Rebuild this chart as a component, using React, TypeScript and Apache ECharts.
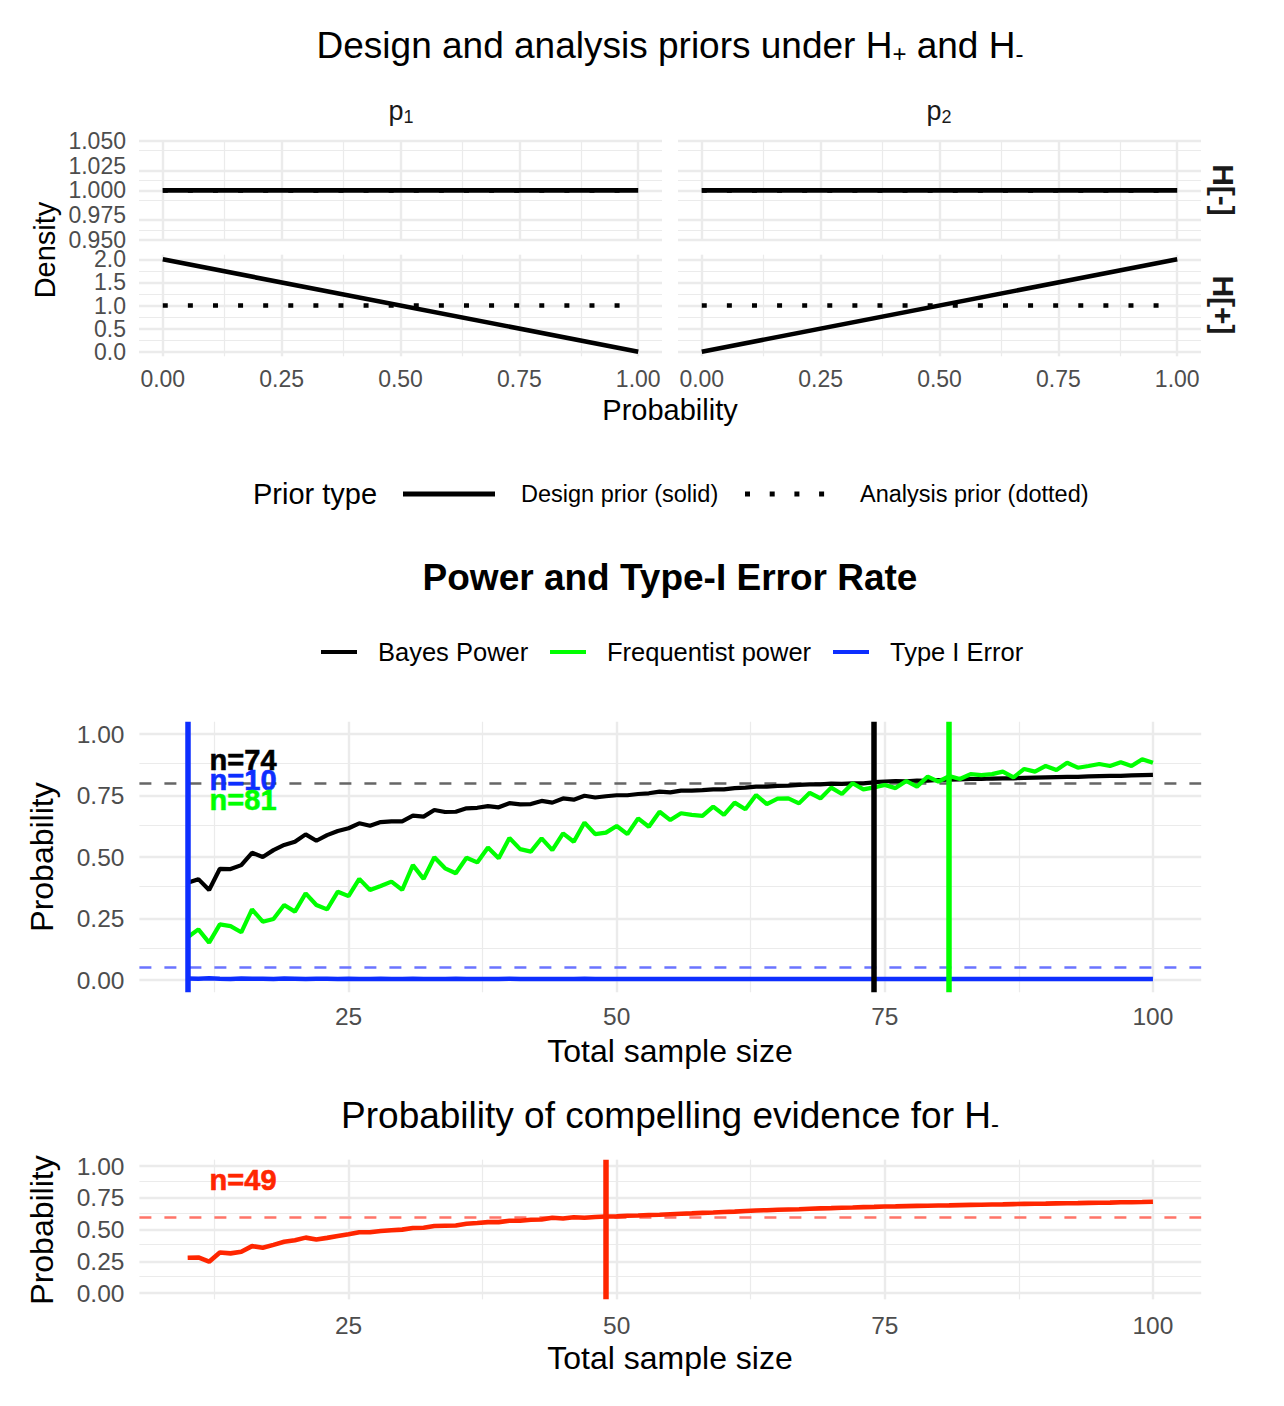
import React, { useEffect, useRef } from "react";
import * as echarts from "echarts";

const FONT = '"Liberation Sans", Arial, Helvetica, sans-serif';
const GRID_COLOR = "#EBEBEB";
const TICK_COLOR = "#4D4D4D";
const STRIP_COLOR = "#1A1A1A";

const BLACK = "#000000";
const GREEN = "#00FF00";
const BLUE = "#0D2EFF";
const RED = "#FF2600";

// ---- prior densities (facets p1 / p2, rows H- / H+) ----
const probGrid = [0, 1];
const designMinus = [1, 1];
const analysisPrior = [1, 1];
const designPlusP1 = [2, 0];
const designPlusP2 = [0, 2];

const probTicks = [0, 0.25, 0.5, 0.75, 1];
const probMinor = [0.125, 0.375, 0.625, 0.875];
const minusTicks = [0.95, 0.975, 1, 1.025, 1.05];
const minusMinor = [0.9625, 0.9875, 1.0125, 1.0375];
const plusTicks = [0, 0.5, 1, 1.5, 2];
const plusMinor = [0.25, 0.75, 1.25, 1.75];

// ---- operating characteristics over total sample size ----
const sampleSizes = Array.from({ length: 91 }, (_, i) => 10 + i);

const bayesPower = [
  0.395, 0.41, 0.366, 0.452, 0.451, 0.467, 0.517, 0.5, 0.528, 0.549,
  0.562, 0.592, 0.566, 0.589, 0.606, 0.617, 0.637, 0.627, 0.642, 0.645,
  0.645, 0.668, 0.664, 0.691, 0.683, 0.684, 0.698, 0.7, 0.707, 0.702,
  0.719, 0.714, 0.715, 0.728, 0.721, 0.738, 0.733, 0.749, 0.742, 0.747,
  0.751, 0.751, 0.756, 0.759, 0.766, 0.763, 0.77, 0.77, 0.772, 0.775,
  0.775, 0.78, 0.782, 0.786, 0.786, 0.789, 0.79, 0.793, 0.795, 0.795,
  0.798, 0.797, 0.799, 0.799, 0.804, 0.807, 0.809, 0.808, 0.811, 0.81,
  0.813, 0.814, 0.815, 0.817, 0.817, 0.819, 0.82, 0.82, 0.822, 0.823,
  0.824, 0.825, 0.826, 0.826, 0.828, 0.829, 0.83, 0.83, 0.832, 0.833,
  0.834,
];

const freqPower = [
  0.174, 0.206, 0.152, 0.226, 0.219, 0.194, 0.287, 0.237, 0.248, 0.305,
  0.278, 0.352, 0.305, 0.287, 0.359, 0.341, 0.411, 0.366, 0.382, 0.4,
  0.366, 0.467, 0.411, 0.499, 0.454, 0.434, 0.497, 0.478, 0.539, 0.495,
  0.577, 0.532, 0.522, 0.576, 0.528, 0.596, 0.562, 0.64, 0.593, 0.599,
  0.626, 0.593, 0.657, 0.623, 0.684, 0.65, 0.678, 0.671, 0.667, 0.705,
  0.671, 0.721, 0.694, 0.752, 0.715, 0.737, 0.738, 0.718, 0.761, 0.738,
  0.782, 0.756, 0.8, 0.775, 0.783, 0.793, 0.78, 0.809, 0.786, 0.827,
  0.806, 0.829, 0.817, 0.837, 0.833, 0.837, 0.847, 0.824, 0.858, 0.847,
  0.87, 0.854, 0.883, 0.863, 0.87, 0.878, 0.87, 0.885, 0.87, 0.897,
  0.883,
];

const typeIError = [
  0.006, 0.005, 0.007, 0.005, 0.004, 0.006, 0.005, 0.005, 0.004, 0.006,
  0.005, 0.004, 0.005, 0.005, 0.004, 0.005, 0.004, 0.004, 0.005, 0.004,
  0.004, 0.005, 0.004, 0.004, 0.004, 0.005, 0.004, 0.004, 0.004, 0.004,
  0.005, 0.004, 0.004, 0.004, 0.004, 0.004, 0.004, 0.005, 0.004, 0.004,
  0.004, 0.004, 0.004, 0.004, 0.004, 0.004, 0.004, 0.004, 0.004, 0.004,
  0.004, 0.004, 0.004, 0.004, 0.004, 0.004, 0.004, 0.004, 0.004, 0.004,
  0.004, 0.004, 0.004, 0.004, 0.004, 0.004, 0.004, 0.004, 0.004, 0.004,
  0.004, 0.004, 0.004, 0.004, 0.004, 0.004, 0.004, 0.004, 0.004, 0.004,
  0.004, 0.004, 0.004, 0.004, 0.004, 0.004, 0.004, 0.004, 0.004, 0.004,
  0.004,
];

const compellingProb = [
  0.278, 0.28, 0.247, 0.319, 0.312, 0.325, 0.369, 0.356, 0.379, 0.403,
  0.416, 0.436, 0.421, 0.434, 0.449, 0.462, 0.478, 0.478, 0.488, 0.494,
  0.499, 0.512, 0.514, 0.527, 0.53, 0.532, 0.545, 0.551, 0.558, 0.558,
  0.569, 0.569, 0.577, 0.579, 0.592, 0.587, 0.597, 0.592, 0.598, 0.602,
  0.603, 0.608, 0.61, 0.614, 0.616, 0.62, 0.624, 0.627, 0.631, 0.634,
  0.638, 0.641, 0.646, 0.65, 0.652, 0.655, 0.658, 0.66, 0.663, 0.666,
  0.668, 0.671, 0.673, 0.676, 0.678, 0.681, 0.682, 0.684, 0.686, 0.687,
  0.689, 0.69, 0.692, 0.694, 0.695, 0.697, 0.698, 0.7, 0.702, 0.703,
  0.704, 0.706, 0.707, 0.708, 0.71, 0.711, 0.712, 0.714, 0.715, 0.716,
  0.718,
];

const nTicks = [25, 50, 75, 100];
const nMinor = [12.5, 37.5, 62.5, 87.5];
const pTicks = [0, 0.25, 0.5, 0.75, 1];
const pMinor = [0.125, 0.375, 0.625, 0.875];

const powerTarget = 0.8;
const alphaLevel = 0.05;
const compellingTarget = 0.6;
const bayesN = 74;
const typeIN = 10;
const freqN = 81;
const compellingN = 49;

const zip = (xs: number[], ys: number[]) => xs.map((x, i) => [x, ys[i]]);

function gridLineData(xMajor: number[], xMinor: number[], yMajor: number[], yMinor: number[]) {
  const major = { color: GRID_COLOR, width: 2.4, type: "solid" };
  const minor = { color: GRID_COLOR, width: 1.2, type: "solid" };
  return [
    ...xMinor.map((v) => ({ xAxis: v, lineStyle: minor })),
    ...yMinor.map((v) => ({ yAxis: v, lineStyle: minor })),
    ...xMajor.map((v) => ({ xAxis: v, lineStyle: major })),
    ...yMajor.map((v) => ({ yAxis: v, lineStyle: major })),
  ];
}

function markLineSeries(idx: number, data: any[], z: number) {
  return {
    type: "line",
    xAxisIndex: idx,
    yAxisIndex: idx,
    data: [],
    z,
    silent: true,
    markLine: {
      z,
      silent: true,
      symbol: ["none", "none"],
      label: { show: false },
      emphasis: { disabled: true },
      animation: false,
      data,
    },
  };
}

function lineSeries(idx: number, data: number[][], color: string, width: number, dash?: number[]) {
  return {
    type: "line",
    xAxisIndex: idx,
    yAxisIndex: idx,
    data,
    symbol: "none",
    z: 3,
    silent: true,
    lineStyle: { color, width, type: dash ? dash : "solid", cap: "butt" },
  };
}

function labelSeries(idx: number, x: number, y: number, text: string, color: string) {
  return {
    type: "scatter",
    xAxisIndex: idx,
    yAxisIndex: idx,
    data: [[x, y]],
    symbolSize: 1,
    z: 8,
    silent: true,
    itemStyle: { color: "transparent", opacity: 1 },
    label: {
      show: true,
      position: "right",
      distance: 0,
      formatter: text,
      color,
      opacity: 1,
      fontFamily: FONT,
      fontWeight: "bold",
      fontSize: 29,
      textBorderColor: color,
      textBorderWidth: 0.6,
    },
  };
}

const tickLabel = (show: boolean, values: number[], digits: number, margin = 12, size = 23) => ({
  show,
  customValues: values,
  formatter: (v: number) => Number(v).toFixed(digits),
  color: TICK_COLOR,
  fontFamily: FONT,
  fontSize: size,
  margin,
});

function axis(gridIndex: number, min: number, max: number, label: any) {
  return {
    gridIndex,
    type: "value",
    min,
    max,
    axisLine: { show: false },
    axisTick: { show: false },
    splitLine: { show: false },
    axisLabel: label,
  };
}

function text(x: number, y: number, str: string, size: number, opts: any = {}) {
  const align = opts.align || "center";
  return {
    type: "text",
    x,
    y,
    rotation: opts.rotation || 0,
    silent: true,
    style: {
      text: str,
      fontSize: size,
      fontFamily: FONT,
      fontWeight: opts.bold ? "bold" : "normal",
      fill: opts.color || "#000000",
      align,
      textAlign: align,
      verticalAlign: "middle",
      textVerticalAlign: "middle",
      rich: opts.rich,
    },
  };
}

function subRich(size: number, subSize: number, color: string) {
  return {
    m: { fontSize: size, fontFamily: FONT, fill: color, lineHeight: Math.round(size * 1.1) },
    s: { fontSize: subSize, fontFamily: FONT, fill: color, lineHeight: Math.round(subSize * 0.85), verticalAlign: "bottom" },
  };
}

function buildOption() {
  const gridBase = { containLabel: false, outerBoundsMode: "none" };
  const grid = [
    { ...gridBase, left: 139, top: 140.7, width: 523, height: 99.3 },
    { ...gridBase, left: 678, top: 140.7, width: 523, height: 99.3 },
    { ...gridBase, left: 139, top: 254.7, width: 523, height: 101.6 },
    { ...gridBase, left: 678, top: 254.7, width: 523, height: 101.6 },
    { ...gridBase, left: 139.4, top: 721.7, width: 1061.8, height: 270.6 },
    { ...gridBase, left: 139.4, top: 1159.65, width: 1061.8, height: 139.7 },
  ];

  const xAxis = [
    axis(0, -0.05, 1.05, tickLabel(false, probTicks, 2)),
    axis(1, -0.05, 1.05, tickLabel(false, probTicks, 2)),
    axis(2, -0.05, 1.05, tickLabel(true, probTicks, 2, 11)),
    axis(3, -0.05, 1.05, tickLabel(true, probTicks, 2, 11)),
    axis(4, 5.5, 104.5, tickLabel(true, nTicks, 0, 12, 24.5)),
    axis(5, 5.5, 104.5, tickLabel(true, nTicks, 0, 14, 24.5)),
  ];
  const yAxis = [
    axis(0, 0.95, 1.05, tickLabel(true, minusTicks, 3, 13)),
    axis(1, 0.95, 1.05, tickLabel(false, minusTicks, 3)),
    axis(2, -0.1, 2.1, tickLabel(true, plusTicks, 1, 13)),
    axis(3, -0.1, 2.1, tickLabel(false, plusTicks, 1)),
    axis(4, -0.05, 1.05, tickLabel(true, pTicks, 2, 15, 24.5)),
    axis(5, -0.05, 1.05, tickLabel(true, pTicks, 2, 15, 24.5)),
  ];

  const dotted = [5, 20.1];
  const series: any[] = [
    // panel grids
    markLineSeries(0, gridLineData(probTicks, probMinor, minusTicks, minusMinor), 1),
    markLineSeries(1, gridLineData(probTicks, probMinor, minusTicks, minusMinor), 1),
    markLineSeries(2, gridLineData(probTicks, probMinor, plusTicks, plusMinor), 1),
    markLineSeries(3, gridLineData(probTicks, probMinor, plusTicks, plusMinor), 1),
    markLineSeries(4, gridLineData(nTicks, nMinor, pTicks, pMinor), 1),
    markLineSeries(5, gridLineData(nTicks, nMinor, pTicks, pMinor), 1),

    // priors
    lineSeries(0, zip(probGrid, analysisPrior), BLACK, 4.6, dotted),
    lineSeries(0, zip(probGrid, designMinus), BLACK, 4.6),
    lineSeries(1, zip(probGrid, analysisPrior), BLACK, 4.6, dotted),
    lineSeries(1, zip(probGrid, designMinus), BLACK, 4.6),
    lineSeries(2, zip(probGrid, analysisPrior), BLACK, 4.6, dotted),
    lineSeries(2, zip(probGrid, designPlusP1), BLACK, 4.6),
    lineSeries(3, zip(probGrid, analysisPrior), BLACK, 4.6, dotted),
    lineSeries(3, zip(probGrid, designPlusP2), BLACK, 4.6),

    // power reference levels
    markLineSeries(
      4,
      [
        { yAxis: powerTarget, lineStyle: { color: "#666666", width: 2.6, type: [12, 13] } },
        { yAxis: alphaLevel, lineStyle: { color: "#6B74FF", width: 2.6, type: [12, 13] } },
      ],
      2
    ),
    lineSeries(4, zip(sampleSizes, bayesPower), BLACK, 4.2),
    lineSeries(4, zip(sampleSizes, freqPower), GREEN, 4.2),
    lineSeries(4, zip(sampleSizes, typeIError), BLUE, 4.6),
    markLineSeries(
      4,
      [
        { xAxis: bayesN, lineStyle: { color: BLACK, width: 5.5, type: "solid" } },
        { xAxis: freqN, lineStyle: { color: GREEN, width: 5.5, type: "solid" } },
        { xAxis: typeIN, lineStyle: { color: BLUE, width: 5.5, type: "solid" } },
      ],
      6
    ),
    labelSeries(4, 12, 0.893, `n=${bayesN}`, BLACK),
    labelSeries(4, 12, 0.813, `n=${typeIN}`, BLUE),
    labelSeries(4, 12, 0.733, `n=${freqN}`, GREEN),

    // compelling evidence
    markLineSeries(
      5,
      [{ yAxis: compellingTarget, lineStyle: { color: "#FF7468", width: 2.6, type: [12, 13] } }],
      2
    ),
    lineSeries(5, zip(sampleSizes, compellingProb), RED, 4.6),
    markLineSeries(5, [{ xAxis: compellingN, lineStyle: { color: RED, width: 5.5, type: "solid" } }], 6),
    labelSeries(5, 12, 0.89, `n=${compellingN}`, RED),
  ];

  const graphic: any[] = [
    // titles
    text(670, 45, "{m|Design and analysis priors under H}{s|+}{m| and H}{s|-}", 37, {
      rich: subRich(37, 24, "#000000"),
    }),
    text(670, 577, "Power and Type-I Error Rate", 37, { bold: true }),
    text(670, 1115, "{m|Probability of compelling evidence for H}{s|-}", 37, {
      rich: subRich(37, 24, "#000000"),
    }),

    // facet strips
    text(401, 111, "{m|p}{s|1}", 27, { rich: subRich(27, 18, STRIP_COLOR), color: STRIP_COLOR }),
    text(939, 111, "{m|p}{s|2}", 27, { rich: subRich(27, 18, STRIP_COLOR), color: STRIP_COLOR }),
    text(1223, 190, "H[-]", 30, { bold: true, rotation: -Math.PI / 2, color: STRIP_COLOR }),
    text(1223, 305, "H[+]", 30, { bold: true, rotation: -Math.PI / 2, color: STRIP_COLOR }),

    // axis titles
    text(45, 250, "Density", 29, { rotation: Math.PI / 2 }),
    text(670, 410, "Probability", 29),
    text(42, 857, "Probability", 32, { rotation: Math.PI / 2 }),
    text(670, 1051, "Total sample size", 32),
    text(42, 1230, "Probability", 32, { rotation: Math.PI / 2 }),
    text(670, 1358, "Total sample size", 32),

    // prior legend
    text(253, 494, "Prior type", 29, { align: "left" }),
    { type: "line", silent: true, shape: { x1: 403, y1: 494, x2: 495, y2: 494 }, style: { stroke: BLACK, lineWidth: 5 } },
    text(521, 494, "Design prior (solid)", 23.5, { align: "left" }),
    {
      type: "line",
      silent: true,
      shape: { x1: 745, y1: 494, x2: 828, y2: 494 },
      style: { stroke: BLACK, lineWidth: 5, lineDash: [5, 19.7] },
    },
    text(860, 494, "Analysis prior (dotted)", 23.5, { align: "left" }),

    // power legend
    { type: "line", silent: true, shape: { x1: 321, y1: 652, x2: 357, y2: 652 }, style: { stroke: BLACK, lineWidth: 4 } },
    text(378, 652, "Bayes Power", 25.5, { align: "left" }),
    { type: "line", silent: true, shape: { x1: 550, y1: 652, x2: 586, y2: 652 }, style: { stroke: GREEN, lineWidth: 4 } },
    text(607, 652, "Frequentist power", 25.5, { align: "left" }),
    { type: "line", silent: true, shape: { x1: 833, y1: 652, x2: 869, y2: 652 }, style: { stroke: BLUE, lineWidth: 4 } },
    text(890, 652, "Type I Error", 25.5, { align: "left" }),
  ];

  return {
    animation: false,
    backgroundColor: "#FFFFFF",
    textStyle: { fontFamily: FONT },
    grid,
    xAxis,
    yAxis,
    series,
    graphic,
  };
}

export default function App() {
  const ref = useRef<HTMLDivElement>(null);

  useEffect(() => {
    if (!ref.current) return;
    const chart = echarts.init(ref.current, undefined, { renderer: "svg" });
    chart.setOption(buildOption() as any);
    return () => chart.dispose();
  }, []);

  return (
    <div
      ref={ref}
      style={{ position: "absolute", left: 0, top: 0, width: 1284, height: 1406, background: "#fff" }}
    />
  );
}
